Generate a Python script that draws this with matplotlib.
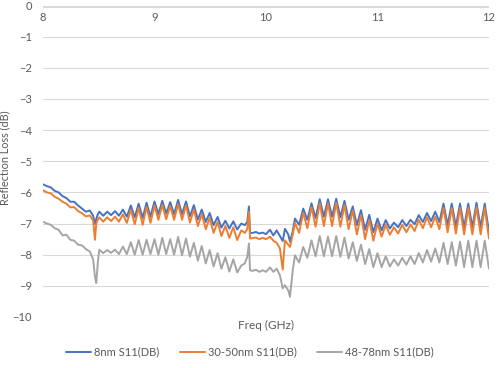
import matplotlib
matplotlib.use('Agg')
from matplotlib import pyplot as plt

# frequency points (GHz) at peaks / troughs
freq = [8.000, 8.035, 8.070, 8.105, 8.140, 8.175, 8.210, 8.245, 8.280, 8.315,
        8.350, 8.385, 8.420, 8.450, 8.466, 8.478, 8.492,
        8.505, 8.540, 8.576, 8.611, 8.646, 8.681, 8.717, 8.752, 8.788, 8.823,
        8.858, 8.894, 8.929, 8.964, 9.000, 9.035, 9.070, 9.105, 9.141, 9.176,
        9.212, 9.247, 9.283, 9.318, 9.353, 9.389, 9.424, 9.460, 9.495, 9.530,
        9.566, 9.600, 9.636, 9.671, 9.707, 9.742, 9.778,
        9.810, 9.832, 9.847, 9.857, 9.880, 9.910, 9.940, 9.970, 10.000, 10.036,
        10.066, 10.096, 10.125, 10.150, 10.170, 10.200, 10.215, 10.240,
        10.260, 10.297, 10.334, 10.371, 10.408, 10.445, 10.482, 10.519, 10.556, 10.593,
        10.630, 10.667, 10.704, 10.741, 10.778, 10.815, 10.852, 10.889, 10.926, 10.963,
        11.000, 11.037, 11.074, 11.111, 11.148, 11.185, 11.222, 11.259, 11.296, 11.333,
        11.370, 11.407, 11.444, 11.481, 11.518, 11.555, 11.592, 11.629, 11.666, 11.703,
        11.740, 11.777, 11.814, 11.851, 11.888, 11.925, 11.962, 12.000]

s11_8nm = [-5.74, -5.80, -5.84, -5.95, -6.00, -6.12, -6.18, -6.30, -6.30, -6.42,
           -6.52, -6.62, -6.58, -6.75, -7.02, -6.85, -6.70,
           -6.62, -6.75, -6.62, -6.73, -6.60, -6.75, -6.55, -6.78, -6.42, -6.80,
           -6.36, -6.82, -6.33, -6.78, -6.29, -6.70, -6.27, -6.68, -6.31, -6.70,
           -6.24, -6.70, -6.29, -6.77, -6.41, -6.87, -6.55, -6.95, -6.66, -7.05,
           -6.79, -7.13, -6.91, -7.16, -6.93, -7.19, -7.00,
           -7.05, -6.95, -6.45, -7.30, -7.30, -7.27, -7.32, -7.29, -7.34, -7.20,
           -7.38, -7.22, -7.40, -7.56, -7.17, -7.35, -7.58, -7.25,
           -6.84, -7.04, -6.52, -6.88, -6.35, -6.82, -6.22, -6.78, -6.22, -6.78,
           -6.20, -6.80, -6.27, -6.88, -6.45, -7.05, -6.57, -7.20, -6.72, -7.28,
           -6.84, -7.22, -6.89, -7.16, -6.97, -7.12, -6.89, -7.08, -6.88, -7.02,
           -6.73, -6.95, -6.66, -6.92, -6.62, -6.95, -6.36, -7.05, -6.36, -7.09,
           -6.36, -7.12, -6.36, -7.12, -6.33, -7.12, -6.36, -7.27]

s11_30_50nm = [-5.93, -6.00, -6.03, -6.14, -6.20, -6.30, -6.36, -6.48, -6.47, -6.60,
               -6.67, -6.77, -6.74, -6.90, -7.52, -7.00, -6.88,
               -6.80, -6.94, -6.80, -6.92, -6.78, -6.94, -6.70, -6.98, -6.56, -7.02,
               -6.50, -7.04, -6.47, -6.98, -6.42, -6.88, -6.40, -6.86, -6.44, -6.88,
               -6.37, -6.88, -6.42, -6.97, -6.55, -7.08, -6.70, -7.18, -6.82, -7.30,
               -6.95, -7.40, -7.08, -7.46, -7.12, -7.53, -7.22,
               -7.30, -7.18, -6.62, -7.48, -7.47, -7.45, -7.50, -7.46, -7.50, -7.42,
               -7.55, -7.62, -7.80, -8.48, -7.54, -7.68, -7.75, -7.35,
               -6.98, -7.30, -6.65, -7.15, -6.47, -7.10, -6.35, -7.08, -6.35, -7.08,
               -6.33, -7.10, -6.40, -7.18, -6.58, -7.35, -6.72, -7.50, -6.88, -7.55,
               -7.00, -7.42, -7.04, -7.36, -7.12, -7.32, -7.04, -7.28, -7.03, -7.24,
               -6.88, -7.15, -6.80, -7.12, -6.78, -7.18, -6.50, -7.28, -6.50, -7.32,
               -6.50, -7.35, -6.50, -7.35, -6.47, -7.35, -6.50, -7.48]

s11_48_78nm = [-6.94, -7.00, -7.04, -7.15, -7.20, -7.38, -7.36, -7.52, -7.55, -7.68,
               -7.70, -7.82, -7.90, -8.15, -8.70, -8.91, -8.25,
               -7.84, -7.95, -7.85, -7.94, -7.84, -7.98, -7.74, -7.98, -7.60, -8.00,
               -7.53, -8.00, -7.52, -7.98, -7.50, -8.00, -7.46, -7.98, -7.50, -8.00,
               -7.43, -8.02, -7.48, -8.06, -7.62, -8.19, -7.72, -8.28, -7.85, -8.38,
               -7.95, -8.45, -8.08, -8.54, -8.15, -8.57, -8.35,
               -8.28, -8.07, -7.64, -8.50, -8.52, -8.48, -8.55, -8.50, -8.55, -8.41,
               -8.55, -8.45, -8.66, -9.08, -8.98, -9.15, -9.35, -8.50,
               -8.02, -8.25, -7.75, -8.10, -7.54, -8.05, -7.40, -8.05, -7.42, -8.05,
               -7.40, -8.07, -7.45, -8.12, -7.60, -8.20, -7.68, -8.30, -7.82, -8.40,
               -7.95, -8.40, -8.05, -8.38, -8.15, -8.35, -8.10, -8.32, -8.05, -8.30,
               -7.95, -8.25, -7.85, -8.22, -7.80, -8.25, -7.62, -8.30, -7.60, -8.35,
               -7.58, -8.40, -7.55, -8.40, -7.55, -8.40, -7.55, -8.45]

series_labels = ['8nm S11(DB)', '30-50nm S11(DB)', '48-78nm S11(DB)']
colors = ['#4472C4', '#ED7D31', '#A5A5A5']
text_color = '#595959'

plt.rcParams['font.family'] = ['Lato', 'DejaVu Sans']

fig = plt.figure(figsize=(4.98, 3.68), dpi=100)
ax = fig.add_axes([0.0863, 0.1386, 0.8956, 0.8464])

for vals, col, lab in zip([s11_8nm, s11_30_50nm, s11_48_78nm], colors, series_labels):
    ax.plot(freq, vals, color=col, lw=1.4, label=lab,
            solid_joinstyle='round', solid_capstyle='round')

ax.set_xlim(8, 12)
ax.set_ylim(-10, 0)
ax.set_xticks(range(8, 13))
ax.set_yticks(range(-10, 1))
ax.grid(axis='y', color='#D9D9D9', lw=0.8)
ax.grid(axis='x', visible=False)
ax.set_axisbelow(True)
for sp in ax.spines.values():
    sp.set_visible(False)
# x axis line sits at 0 dB, labels hang below it
ax.axhline(0, color='#D0D0D0', lw=1.8, zorder=0.5)

ax.tick_params(axis='y', length=0, pad=8, labelsize=8, labelcolor=text_color)
ax.tick_params(axis='x', length=0, bottom=False, top=False, labelbottom=False,
               labeltop=True, pad=-12.5, labelsize=8, labelcolor=text_color)

ax.set_xlabel('Freq (GHz)', fontsize=8.5, color=text_color, labelpad=2)
ax.set_ylabel('Reflection Loss (dB)', fontsize=7.8, color=text_color)
ax.yaxis.set_label_coords(-0.073, 0.512)

fig.legend(loc='center', bbox_to_anchor=(0.502, 0.0435), ncol=3, frameon=False,
           fontsize=8, handlelength=2.25, handletextpad=0.3, columnspacing=1.8,
           labelcolor=text_color)

plt.savefig('out.png', dpi=100)
